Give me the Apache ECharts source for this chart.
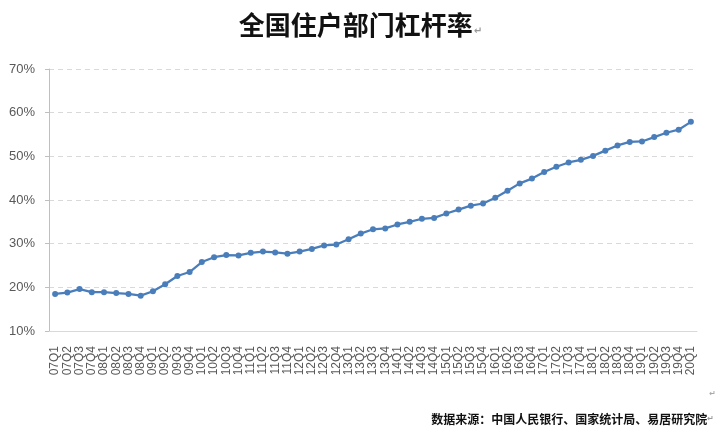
<!DOCTYPE html>
<html>
<head>
<meta charset="utf-8">
<title>全国住户部门杠杆率</title>
<script src="https://cdn.jsdelivr.net/npm/echarts@6/dist/echarts.min.js"></script>
<style>
  html, body { margin: 0; padding: 0; background: #fff; }
  #main { width: 721px; height: 427px; }
</style>
</head>
<body>
<div id="main"></div>
<script>
// 季度
var quarters = [
  '07Q1', '07Q2', '07Q3', '07Q4', '08Q1', '08Q2', '08Q3', '08Q4',
  '09Q1', '09Q2', '09Q3', '09Q4', '10Q1', '10Q2', '10Q3', '10Q4',
  '11Q1', '11Q2', '11Q3', '11Q4', '12Q1', '12Q2', '12Q3', '12Q4',
  '13Q1', '13Q2', '13Q3', '13Q4', '14Q1', '14Q2', '14Q3', '14Q4',
  '15Q1', '15Q2', '15Q3', '15Q4', '16Q1', '16Q2', '16Q3', '16Q4',
  '17Q1', '17Q2', '17Q3', '17Q4', '18Q1', '18Q2', '18Q3', '18Q4',
  '19Q1', '19Q2', '19Q3', '19Q4', '20Q1'
];
// 住户部门杠杆率 (%)
var leverage = [
  18.5, 18.8, 19.6, 18.9, 18.9, 18.7, 18.5, 18.1,
  19.1, 20.7, 22.6, 23.5, 25.8, 26.9, 27.4, 27.3,
  27.9, 28.2, 28.0, 27.7, 28.2, 28.8, 29.6, 29.8,
  31.0, 32.3, 33.3, 33.5, 34.4, 35.0, 35.7, 35.9,
  36.9, 37.8, 38.7, 39.2, 40.5, 42.1, 43.8, 44.9,
  46.4, 47.6, 48.6, 49.2, 50.1, 51.3, 52.5, 53.3,
  53.4, 54.4, 55.4, 56.1, 57.9
];
// y轴范围
var yMin = 10;
var yMax = 70;
var yStep = 10;

var titleText = '全国住户部门杠杆率';
var sourceText = '数据来源：中国人民银行、国家统计局、易居研究院';

var chart = echarts.init(document.getElementById('main'), null, { renderer: 'canvas' });

var option = {
  backgroundColor: '#fff',
  animation: false,
  title: [
    {
      text: '{t|' + titleText + '}{m|↵}',
      left: 'center',
      top: 7,
      textStyle: {
        rich: {
          t: {
            fontFamily: 'Noto Sans CJK SC',
            fontSize: 26,
            fontWeight: 'bold',
            color: '#111'
          },
          m: {
            fontFamily: 'DejaVu Sans',
            fontSize: 10,
            color: '#999',
            padding: [12, 0, 0, 1]
          }
        }
      }
    },
    {
      // 段落标记
      text: '↵',
      right: 0,
      top: 385,
      textStyle: { fontFamily: 'DejaVu Sans', fontSize: 8, color: '#aaa' }
    },
    {
      text: '{s|' + sourceText + '}{m|↵}',
      right: 2,
      top: 408,
      textStyle: {
        rich: {
          s: {
            fontFamily: 'Noto Sans CJK SC',
            fontSize: 12,
            fontWeight: 'bold',
            color: '#111'
          },
          m: {
            fontFamily: 'DejaVu Sans',
            fontSize: 8,
            color: '#999'
          }
        }
      }
    }
  ],
  grid: {
    left: 49,
    right: 24,
    top: 69,
    bottom: 96
  },
  xAxis: {
    type: 'category',
    data: quarters,
    boundaryGap: true,
    axisLine: { lineStyle: { color: '#d9d9d9', width: 1 } },
    axisTick: { show: false },
    axisLabel: {
      interval: 0,
      rotate: 90,
      margin: 15,
      fontFamily: 'Liberation Sans',
      fontSize: 12,
      color: '#595959'
    }
  },
  yAxis: {
    type: 'value',
    min: yMin,
    max: yMax,
    interval: yStep,
    axisLine: { show: true, lineStyle: { color: '#bfbfbf', width: 1 } },
    axisTick: { show: true, length: 4, lineStyle: { color: '#bfbfbf' } },
    axisLabel: {
      margin: 14,
      fontFamily: 'Liberation Sans',
      fontSize: 13,
      color: '#595959',
      formatter: '{value}%'
    },
    splitLine: {
      show: true,
      lineStyle: { color: '#d9d9d9', type: [5, 4], width: 1 }
    }
  },
  series: [
    {
      name: '住户部门杠杆率',
      type: 'line',
      data: leverage,
      symbol: 'circle',
      symbolSize: 6,
      lineStyle: { color: '#4a7ebb', width: 2.25 },
      itemStyle: { color: '#4a7ebb' }
    }
  ]
};

chart.setOption(option);
</script>
</body>
</html>
